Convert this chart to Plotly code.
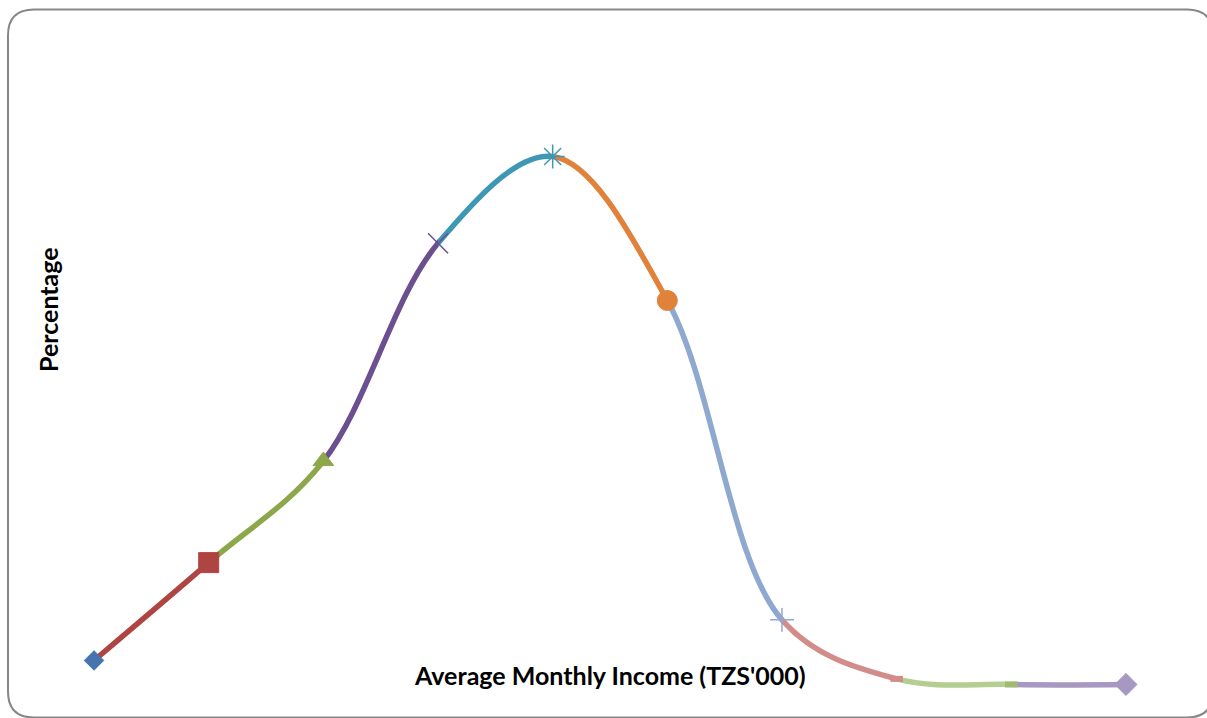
import plotly.graph_objects as go

# income bands (positions along the category axis) and share of households (%)
bands = [1, 2, 3, 4, 5, 6, 7, 8, 9, 10]
percentage = [1.6, 6.9, 12.4, 24.2, 28.9, 21.1, 3.8, 0.6, 0.3, 0.3]

# one colour per curve segment (Excel series colours) and one marker per point
segment_colors = ["#AE4542", "#8DA84B", "#6B4F8F", "#3F98B3", "#E0823A",
                  "#8FA8D0", "#D28D8B", "#B4CD90", "#A698C1"]
marker_colors = ["#4674AE", "#AE4542", "#8DA84B", "#6B4F8F", "#3F98B3",
                 "#E0823A", "#8FA8D0", "#D28D8B", "#9FBB72", "#A698C1"]
marker_symbols = ["diamond", "square", "triangle-up", "x-thin-open", "asterisk-open",
                  "circle", "cross-thin-open", "line-ew-open", "line-ew-open", "diamond"]
marker_sizes = [15, 20, 18, 20, 20, 20, 17, 9, 9, 17]
marker_widths = [1, 1, 1, 1.5, 1.5, 1, 1.5, 6, 6, 1]

W, H = 1207, 718
# pixel placement of the plot area
x_left, x_right = 36.7, 1183.3
y_zero_px, px_per_pct = 690, 18.46
y_range = [-(H - y_zero_px) / px_per_pct, y_zero_px / px_per_pct]


def xpaper(val):
    px = x_left + (val - 0.5) * (x_right - x_left) / 10
    return px / W


fig = go.Figure()
layout = dict(
    width=W, height=H,
    margin=dict(l=0, r=0, t=0, b=0),
    paper_bgcolor="white", plot_bgcolor="rgba(0,0,0,0)",
    showlegend=False,
    yaxis=dict(domain=[0, 1], range=y_range, visible=False, fixedrange=True),
    xaxis=dict(domain=[x_left / W, x_right / W], range=[0.5, 10.5], visible=False),
)

# each coloured segment: full smooth curve clipped to its own slice of the plot
for k in range(len(bands) - 1):
    ax = "x%d" % (k + 2)
    fig.add_trace(go.Scatter(
        x=bands, y=percentage, mode="lines", xaxis=ax, yaxis="y",
        line=dict(color=segment_colors[k], width=5.5, shape="spline", smoothing=1, simplify=False),
        hoverinfo="skip",
    ))
    layout["xaxis%d" % (k + 2)] = dict(
        domain=[xpaper(bands[k]), xpaper(bands[k + 1])],
        range=[bands[k], bands[k + 1]], anchor="y", visible=False)

# markers on top
fig.add_trace(go.Scatter(
    x=bands, y=percentage, mode="markers", xaxis="x11", yaxis="y", cliponaxis=False,
    marker=dict(symbol=marker_symbols, size=marker_sizes, color=marker_colors, opacity=1,
                line=dict(color=marker_colors, width=marker_widths)),
))
layout["xaxis11"] = dict(domain=[x_left / W, x_right / W], range=[0.5, 10.5],
                         anchor="y", visible=False)


# rounded chart border
def rounded_path(l, t, r, b, rad):
    def p(x, y):
        return "%.5f,%.5f" % (x / W, 1 - y / H)
    return ("M" + p(l + rad, t) + " L" + p(r - rad, t) + " Q" + p(r, t) + " " + p(r, t + rad) +
            " L" + p(r, b - rad) + " Q" + p(r, b) + " " + p(r - rad, b) +
            " L" + p(l + rad, b) + " Q" + p(l, b) + " " + p(l, b - rad) +
            " L" + p(l, t + rad) + " Q" + p(l, t) + " " + p(l + rad, t) + " Z")


layout["shapes"] = [dict(type="path", xref="paper", yref="paper",
                         path=rounded_path(8, 9.5, 1213, 717.5, 26),
                         line=dict(color="#878787", width=2))]

font = dict(family="Lato, Open Sans, sans-serif", size=25, color="black")
layout["annotations"] = [
    dict(text="<b>Average Monthly Income (TZS'000)</b>", xref="paper", yref="paper",
         x=610 / W, y=1 - 675 / H, showarrow=False, font=font, xanchor="center", yanchor="middle"),
    dict(text="<b>Percentage</b>", xref="paper", yref="paper", textangle=-90,
         x=48 / W, y=1 - 310 / H, showarrow=False, font=font, xanchor="center", yanchor="middle"),
]

fig.update_layout(**layout)
fig.write_html("out.html", config={"displayModeBar": False},
               post_script="document.body.style.margin='0px';")
